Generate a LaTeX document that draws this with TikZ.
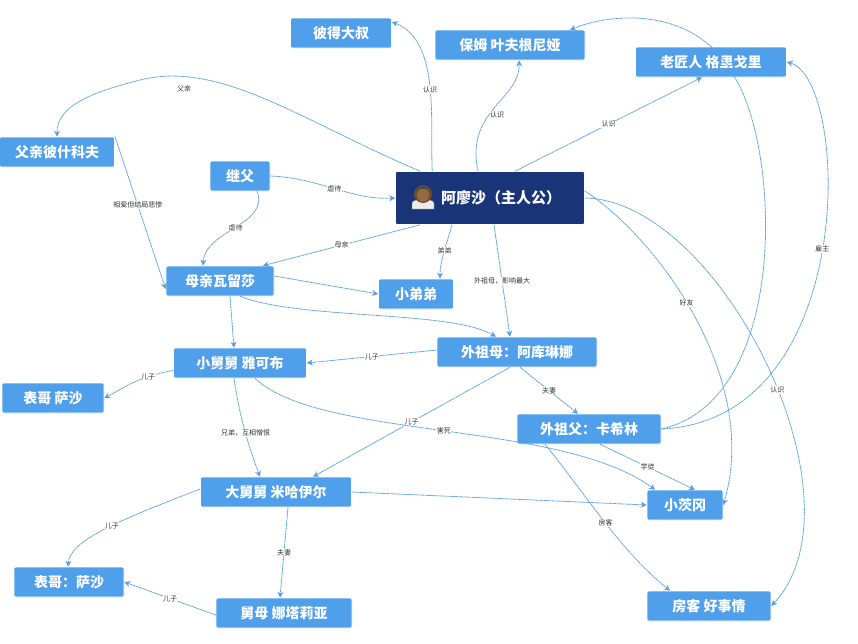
\documentclass[tikz,border=0pt]{standalone}
\usepackage{fontspec}
\setmainfont{Noto Sans CJK SC}
\usetikzlibrary{arrows.meta}
\definecolor{nb}{HTML}{4F9FEA}
\definecolor{hero}{HTML}{1A3478}
\definecolor{ln}{HTML}{5A9EE2}
\begin{document}
\begin{tikzpicture}[x=1pt,y=-1pt,
 box/.style={fill=nb,rounded corners=2pt,text=white,font=\bfseries\fontsize{14}{16}\selectfont,minimum height=30pt,inner sep=0pt,draw=white,line width=0.6pt},
 e/.style={draw=ln,dashed,dash pattern=on 2pt off 0.6pt,line width=0.8pt,-{Stealth[length=6pt,width=6pt]}},
 lb/.style={fill=white,inner sep=0.5pt,font=\fontsize{7}{8}\selectfont,text=black!80}]
\useasboundingbox (0,0) rectangle (858,643);
\begin{scope}[on background layer/.style={}]
\end{scope}
% nodes
\node[box,minimum width=101pt] (peter) at (341,33) {彼得大叔};
\node[box,minimum width=150pt] (nanny) at (510,45) {保姆 叶夫根尼娅};
\node[box,minimum width=151pt] (old) at (711,62) {老匠人 格里戈里};
\node[box,minimum width=115pt] (father) at (57,152) {父亲彼什科夫};
\node[box,minimum width=60pt] (step) at (240,176) {继父};
\node[box,fill=hero,minimum width=189pt,minimum height=53pt,font=\bfseries\fontsize{15}{17}\selectfont] (hero) at (490,198) {\hspace{22pt}阿廖沙（主人公）};
\node[box,minimum width=108pt] (mother) at (220,281) {母亲瓦留莎};
\node[box,minimum width=75pt] (bro) at (416,294) {小弟弟};
\node[box,minimum width=160pt] (gm) at (517,352) {外祖母：阿库琳娜};
\node[box,minimum width=133pt] (jac) at (240,363) {小舅舅 雅可布};
\node[box,minimum width=102pt] (sasha1) at (53,398) {表哥 萨沙};
\node[box,minimum width=144pt] (gf) at (589,429) {外祖父：卡希林};
\node[box,minimum width=151pt] (mik) at (276,492) {大舅舅 米哈伊尔};
\node[box,minimum width=76pt] (gypsy) at (685,505) {小茨冈};
\node[box,minimum width=110pt] (sasha2) at (69,582) {表哥：萨沙};
\node[box,minimum width=136pt] (nat) at (284,613) {舅母 娜塔莉亚};
\node[box,minimum width=124pt] (lodger) at (709,606) {房客 好事情};
% avatar
\begin{scope}[shift={(423,197)}]
\fill[white!85!gray,draw=black!60] (-11,12) -- (-11,6) .. controls (-11,1) and (11,1) .. (11,6) -- (11,12) -- cycle;
\fill[brown!60!black] (0,-3) circle (9pt);
\fill[brown!70!black!90!white] (0,-2) ellipse (6pt and 7pt);
\fill[black!70] (-7,-6) .. controls (-6,-14) and (6,-14) .. (7,-6) .. controls (3,-9) and (-3,-9) .. (-7,-6);
\end{scope}
% edges
\draw[e] (hero.north west)++(37,0) .. controls (430,120) and (440,40) .. (peter.east|-0,22) coordinate(x1);
\draw[e] ([xshift=-12pt]hero.north) .. controls (465,110) and (520,100) .. ([xshift=9pt]nanny.south);
\draw[e] ([xshift=25pt]hero.north) -- ([xshift=-9pt]old.south) node[lb,pos=0.5]{认识};
\node[lb] at (430,90) {认识};
\node[lb] at (497,115) {认识};
\draw[e] ([xshift=-70pt]hero.north) .. controls (300,120) and (220,60) .. (140,80) .. controls (80,95) and (57,110) .. (father.north) ;
\node[lb] at (184,89) {父亲};
\draw[e] (step.east) .. controls (320,178) and (350,200) .. (hero.west) node[lb,pos=0.5]{虐待};
\draw[e] ([xshift=17pt]step.south) .. controls (270,225) and (205,230) .. ([xshift=-17pt]mother.north) node[lb,pos=0.5]{虐待};
\draw[e] ([xshift=-70pt]hero.south) -- ([xshift=43pt]mother.north) node[lb,pos=0.5]{母亲};
\draw[e] ([xshift=58pt]father.north) -- ([yshift=-8pt]mother.west) node[lb,pos=0.45]{相爱但结局悲惨};
\draw[e] ([xshift=-38pt]hero.south) .. controls (448,240) and (440,260) .. ([xshift=24pt]bro.north) node[lb,pos=0.5]{弟弟};
\draw[e] ([yshift=5pt]mother.east) -- (bro.west);
\draw[e] ([xshift=4pt]hero.south) -- ([xshift=-7pt]gm.north) node[lb,pos=0.5]{外祖母，影响最大};
\draw[e] ([xshift=20pt]mother.south) .. controls (300,320) and (450,310) .. ([xshift=-21pt]gm.north);
\draw[e] ([xshift=10pt]mother.south) -- ([xshift=-6pt]jac.north);
\draw[e] ([yshift=7pt]hero.east) .. controls (660,240) and (760,380) .. (gypsy.east) node[lb,pos=0.45]{好友};
\draw[e] (hero.east) .. controls (720,200) and (870,500) .. (lodger.east) node[lb,pos=0.55]{认识};
\draw[e] (gf.east) .. controls (860,420) and (850,80) .. (old.east) node[lb,pos=0.5]{雇主};
\draw[e] (gf.east) .. controls (790,400) and (780,150) .. (735,78) .. controls (700,10) and (620,10) .. ([xshift=60pt]nanny.north);
\draw[e] ([yshift=2pt]gm.west) -- (jac.east) node[lb,pos=0.5]{儿子};
\draw[e] ([xshift=-7pt]gm.south) -- ([xshift=37pt]mik.north) node[lb,pos=0.5]{儿子};
\draw[e] ([xshift=3pt]gm.south) -- ([xshift=-11pt]gf.north) node[lb,pos=0.5]{夫妻};
\draw[e] ([xshift=-66pt,yshift=-3pt]jac.east) .. controls (150,365) and (130,385) .. (sasha1.east) node[lb,pos=0.5]{儿子};
\draw[e] ([xshift=-6pt]jac.south) .. controls (240,420) and (250,450) .. ([xshift=-16pt]mik.north) node[lb,pos=0.5]{兄弟，互相憎恨};
\draw[e] ([xshift=15pt]jac.south) .. controls (320,440) and (560,420) .. ([xshift=-30pt]gypsy.north) node[lb,pos=0.5]{害死};
\draw[e] ([xshift=11pt]gf.south) -- ([xshift=10pt]gypsy.north) node[lb,pos=0.5]{学徒};
\draw[e] ([xshift=-44pt]gf.south) .. controls (590,500) and (620,550) .. ([xshift=-39pt]lodger.north) node[lb,pos=0.5]{房客};
\draw[e] (mik.east) -- (gypsy.west);
\draw[e] ([yshift=3pt]mik.west) .. controls (120,520) and (70,540) .. ([xshift=-1pt]sasha2.north) node[lb,pos=0.45]{儿子};
\draw[e] ([xshift=12pt]mik.south) -- ([xshift=-4pt]nat.north) node[lb,pos=0.5]{夫妻};
\draw[e] ([yshift=-2pt]nat.west) -- (sasha2.east) node[lb,pos=0.5]{儿子};
% redraw nodes on top
\foreach \n in {peter,nanny,old,father,step,mother,bro,gm,jac,sasha1,gf,mik,gypsy,sasha2,nat,lodger}{}
\end{tikzpicture}
\end{document}
